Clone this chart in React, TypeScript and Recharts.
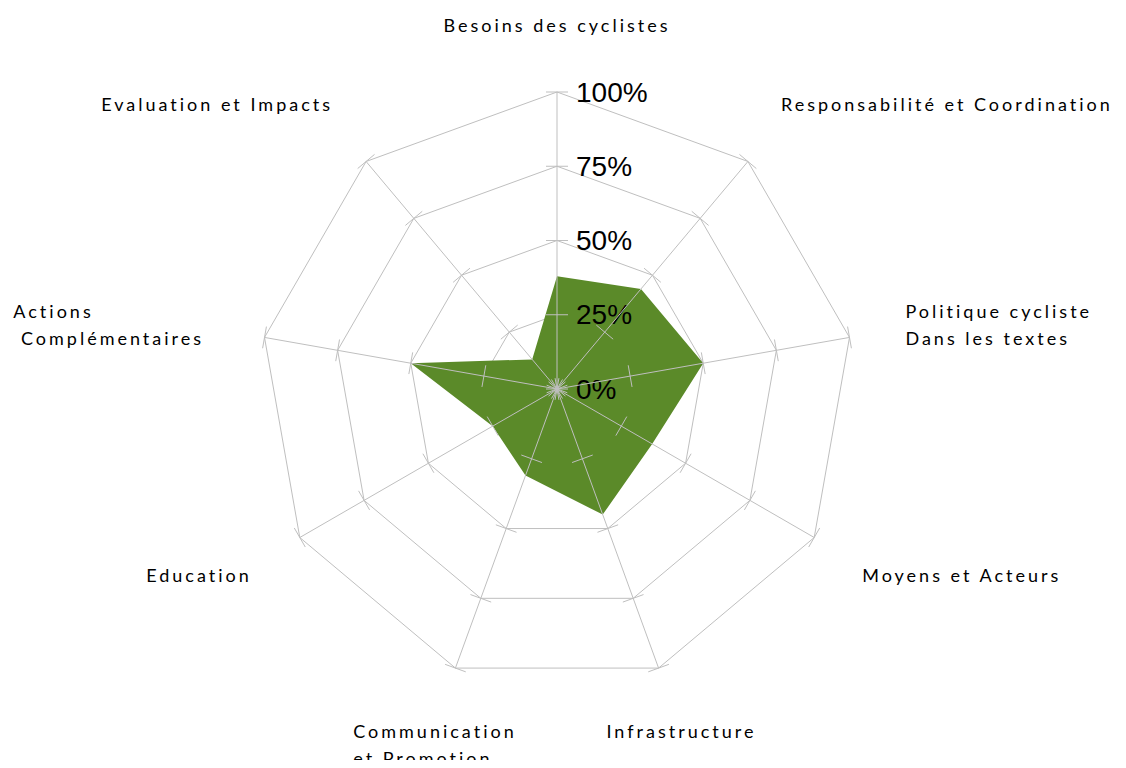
import React from 'react';
import { RadarChart, Radar, PolarGrid, PolarAngleAxis, PolarRadiusAxis } from 'recharts';

const categories: string[] = [
  'Besoins des cyclistes',
  'Responsabilité et Coordination',
  'Politique cycliste\nDans les textes',
  'Moyens et Acteurs',
  'Infrastructure',
  'Communication\net Promotion',
  'Education',
  'Actions\n Complémentaires',
  'Evaluation et Impacts',
];
const scores: number[] = [38, 44, 50, 37, 45, 31, 25, 50, 13];
const radiusTicks: number[] = [0, 25, 50, 75, 100];

const data = categories.map((c, i) => ({ category: c, score: scores[i] }));

const CX = 549;
const CY = 381;
const OUTER = 297;
const GRID = '#bfbfbf';
const GREEN = '#5b8a29';
const LABEL_FONT = 'Lato, "Open Sans", sans-serif';
const CHAR_W = 12.2;
const LINE_H = 27;

function AngleTick(props: any) {
  const { payload, x, y } = props;
  const theta = (payload.coordinate * Math.PI) / 180;
  const c = Math.cos(theta);
  const s = Math.sin(theta);
  const lines = String(payload.value).split('\n');
  const n = lines.length;
  const anchor: 'start' | 'middle' | 'end' = Math.abs(c) < 0.4 ? 'middle' : c > 0 ? 'start' : 'end';
  let tx = x;
  let ty = y;
  if (anchor !== 'middle') {
    tx = x + (c > 0 ? -10 : 10);
    ty = y - 8 * s;
  }
  let firstY: number;
  if (s < -0.9) firstY = ty;
  else if (s > 0.9) firstY = ty - (n - 1) * LINE_H;
  else firstY = ty - ((n - 1) * LINE_H) / 2;

  let textAnchor: string = anchor;
  let x0 = tx;
  if (n > 1) {
    const blockW = Math.max(...lines.map((l) => l.length)) * CHAR_W;
    textAnchor = 'start';
    if (anchor === 'end') x0 = tx - blockW;
    else if (anchor === 'middle') x0 = tx - blockW / 2;
  }
  return (
    <text
      x={x0}
      y={firstY}
      textAnchor={textAnchor}
      dominantBaseline="central"
      fontFamily={LABEL_FONT}
      fontSize={18}
      letterSpacing={3}
      fill="#000"
      style={{ whiteSpace: 'pre' }}
    >
      {lines.map((l, i) => (
        <tspan key={i} x={x0} y={firstY + i * LINE_H}>
          {l}
        </tspan>
      ))}
    </text>
  );
}

function RadiusTick(props: any) {
  const { x, y, payload } = props;
  const cx = typeof props.cx === 'number' ? props.cx : CX;
  const cy = typeof props.cy === 'number' ? props.cy : CY;
  const r = Math.hypot(x - cx, y - cy);
  const n = categories.length;
  const half = 11;
  const isMax = payload.value === radiusTicks[radiusTicks.length - 1];
  const elems: React.ReactNode[] = [];
  for (let i = 0; i < n; i++) {
    const a = ((90 - (i * 360) / n) * Math.PI) / 180;
    const px = cx + r * Math.cos(a);
    const py = cy - r * Math.sin(a);
    const pxp = Math.sin(a);
    const pyp = Math.cos(a);
    if (isMax) {
      elems.push(
        <line key={'r' + i} x1={cx} y1={cy} x2={px} y2={py} stroke={GRID} strokeWidth={1} />
      );
    }
    elems.push(
      <line
        key={'t' + i}
        x1={px - half * pxp}
        y1={py - half * pyp}
        x2={px + half * pxp}
        y2={py + half * pyp}
        stroke={GRID}
        strokeWidth={1}
      />
    );
  }
  return (
    <g>
      {elems}
      <text
        x={x + 19}
        y={y}
        dominantBaseline="central"
        textAnchor="start"
        fontFamily='"Liberation Sans", Arial, sans-serif'
        fontSize={28}
        fill="#000"
      >
        {payload.value + '%'}
      </text>
    </g>
  );
}

export default function App() {
  return (
    <div style={{ width: 1110, height: 752, overflow: 'visible' }}>
      <RadarChart
        width={1110}
        height={760}
        data={data}
        cx={CX}
        cy={CY}
        outerRadius={OUTER}
        startAngle={90}
        endAngle={-270}
        margin={{ top: 0, right: 0, bottom: 0, left: 0 }}
      >
        <PolarGrid gridType="polygon" radialLines={false} stroke={GRID} strokeWidth={1} />
        <PolarAngleAxis
          dataKey="category"
          tick={<AngleTick />}
          tickLine={false}
          axisLine={false}
          tickSize={67}
        />
        <Radar
          dataKey="score"
          fill={GREEN}
          fillOpacity={1}
          stroke={GREEN}
          strokeWidth={0}
          dot={false}
          isAnimationActive={false}
        />
        <PolarRadiusAxis
          angle={90}
          domain={[0, 100]}
          ticks={radiusTicks}
          type="number"
          axisLine={false}
          tick={<RadiusTick />}
        />
      </RadarChart>
    </div>
  );
}
